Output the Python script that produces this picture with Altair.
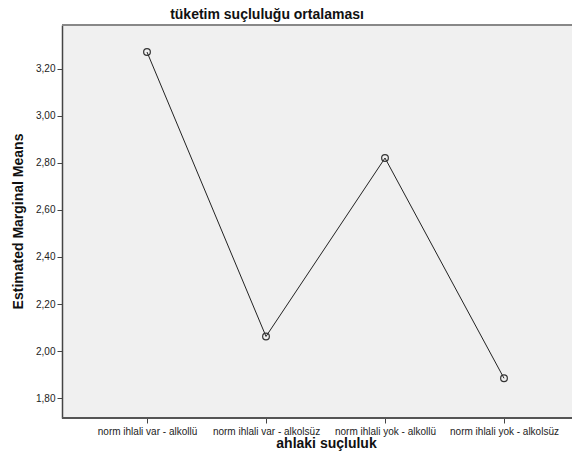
import altair as alt
import pandas as pd

categories = ["norm ihlali var - alkollü", "norm ihlali var - alkolsüz",
              "norm ihlali yok - alkollü", "norm ihlali yok - alkolsüz"]
means = [3.272, 2.062, 2.821, 1.884]
y_ticks = [1.8, 2.0, 2.2, 2.4, 2.6, 2.8, 3.0, 3.2]
title_text = ["tüketim suçluluğu ortalaması"]

df = pd.DataFrame({"cat": categories, "mean": means})
FONT = "Liberation Sans"

x_enc = alt.X("cat:N", sort=categories,
              scale=alt.Scale(type="point", range=[85, 442], padding=0),
              axis=alt.Axis(title="ahlaki suçluluk", labelAngle=0, labelFontSize=10,
                            labelFont=FONT, labelColor="#222", tickSize=5,
                            tickColor="#444", domain=False,
                            labelPadding=3, titleFont=FONT, titleFontSize=14,
                            titleFontWeight="bold", titleX=264, titleY=29,
                            titleBaseline="alphabetic", titleColor="#111"))
y_enc = alt.Y("mean:Q", scale=alt.Scale(domain=[1.715, 3.387], nice=False, zero=False),
              axis=alt.Axis(title="Estimated Marginal Means", values=y_ticks,
                            labelExpr="replace(format(datum.value, '.2f'), '.', ',')",
                            labelFontSize=10, labelFont=FONT, labelColor="#222",
                            tickSize=5, tickColor="#444", domainColor="#444",
                            domainWidth=1.5, labelPadding=2, grid=False,
                            titleFont=FONT, titleFontSize=14, titleFontWeight="bold",
                            titleX=-44, titleY=196, titleAngle=-90,
                            titleBaseline="middle", titleAlign="center",
                            titleColor="#111"))

line = alt.Chart(df).mark_line(color="#222", strokeWidth=1).encode(x=x_enc, y=y_enc)
pts = alt.Chart(df).mark_point(shape="circle", filled=False, size=45,
                               color="#333", strokeWidth=1.2, opacity=1).encode(x=x_enc, y=y_enc)
top = alt.Chart(df).mark_rule(color="#888", strokeWidth=2).encode(
    x=alt.value(0), x2=alt.value(510), y=alt.value(0))
bottom = alt.Chart(df).mark_rule(color="#555", strokeWidth=2).encode(
    x=alt.value(0), x2=alt.value(510), y=alt.value(393))
ttl = alt.Chart(pd.DataFrame({"t": title_text})).mark_text(
    font=FONT, fontSize=14, fontWeight="bold", color="#111", align="center",
    baseline="alphabetic").encode(text="t:N", x=alt.value(205), y=alt.value(-6))

chart = alt.layer(top, bottom, line, pts, ttl).properties(
    width=510, height=393,
    autosize=alt.AutoSizeParams(type="none"),
    padding={"left": 54, "top": 17, "right": 0, "bottom": 38},
    background="white",
).configure_view(fill="#f0f0f0", stroke=None)

chart.save("out.html", embed_options={"renderer": "svg", "actions": False})
